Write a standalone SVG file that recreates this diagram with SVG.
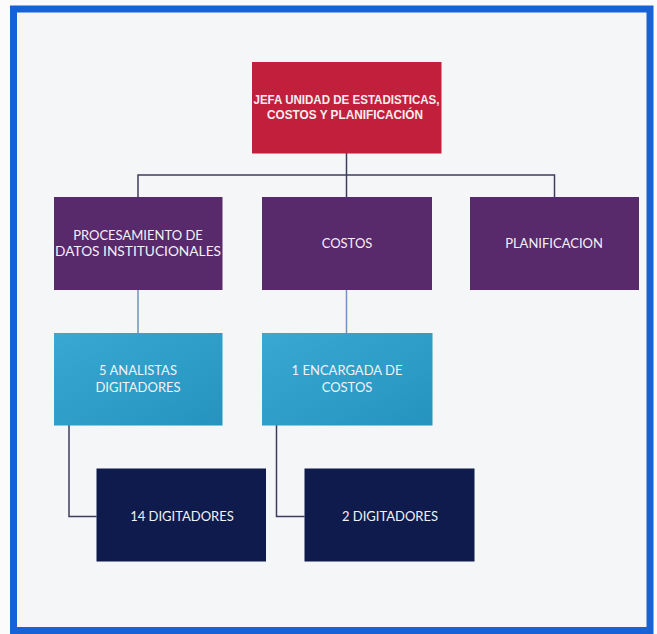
<svg xmlns="http://www.w3.org/2000/svg" width="657" height="634" viewBox="0 0 657 634">
<defs>
<style>
.frame{fill:#f5f6f8;stroke:#1762d4;stroke-width:7}
.red{fill:#c21f3d}
.purple{fill:#58296b}
.cyan{fill:url(#cy)}
.navy{fill:#0f1b4c}
.t{font-family:Lato,"Open Sans","Liberation Sans",sans-serif;font-size:13px;fill:#f2f2f7;text-anchor:middle}
.tb{font-family:"Liberation Sans",Arial,sans-serif;font-size:12.5px;font-weight:bold;fill:#f5eef0;text-anchor:middle}
.c{fill:none;stroke:#3c3c5e;stroke-width:1.5}
.c2{fill:none;stroke:#6f93c2;stroke-width:1.5}
</style>
<linearGradient id="cy" x1="0" y1="0" x2="1" y2="1">
<stop offset="0" stop-color="#38a9d3"/>
<stop offset="1" stop-color="#2593be"/>
</linearGradient>
</defs>
<rect x="0" y="0" width="657" height="634" fill="#fbfbfc"/>
<rect class="frame" x="13.5" y="9" width="636.5" height="621.5"/>
<g id="connectors">
<path class="c" d="M346.5 153V175M138 197V175H554.5V197M346.5 175V197"/>
<path class="c2" d="M138 290V333M346.5 290V333"/>
<path class="c" d="M69 425V516.5H96.5M276.5 425V516.5H304.5"/>
</g>
<g id="jefa">
<rect class="red" x="252" y="62" width="189.5" height="91.5"/>
<text class="tb" x="346.5" y="104" textLength="186" lengthAdjust="spacingAndGlyphs">JEFA UNIDAD DE ESTADISTICAS,</text>
<text class="tb" x="345" y="119" textLength="156" lengthAdjust="spacingAndGlyphs">COSTOS Y PLANIFICACIÓN</text>
</g>
<g id="procesamiento">
<rect class="purple" x="54" y="197" width="168.5" height="93"/>
<text class="t" x="138" y="240">PROCESAMIENTO DE</text>
<text class="t" x="138" y="256" textLength="166" lengthAdjust="spacingAndGlyphs">DATOS INSTITUCIONALES</text>
</g>
<g id="costos">
<rect class="purple" x="262" y="197" width="170" height="93"/>
<text class="t" x="347" y="248">COSTOS</text>
</g>
<g id="planificacion">
<rect class="purple" x="470" y="197" width="169" height="93"/>
<text class="t" x="554" y="248">PLANIFICACION</text>
</g>
<g id="analistas">
<rect class="cyan" x="54" y="333" width="168.5" height="92.5"/>
<text class="t" x="138" y="375">5 ANALISTAS</text>
<text class="t" x="138" y="392">DIGITADORES</text>
</g>
<g id="encargada">
<rect class="cyan" x="262" y="333" width="170.5" height="92.5"/>
<text class="t" x="347" y="375">1 ENCARGADA DE</text>
<text class="t" x="347" y="392">COSTOS</text>
</g>
<g id="digitadores14">
<rect class="navy" x="96.5" y="468.5" width="169.5" height="93"/>
<text class="t" x="182" y="521">14 DIGITADORES</text>
</g>
<g id="digitadores2">
<rect class="navy" x="304.5" y="468.5" width="170" height="93"/>
<text class="t" x="390" y="521">2 DIGITADORES</text>
</g>
</svg>
